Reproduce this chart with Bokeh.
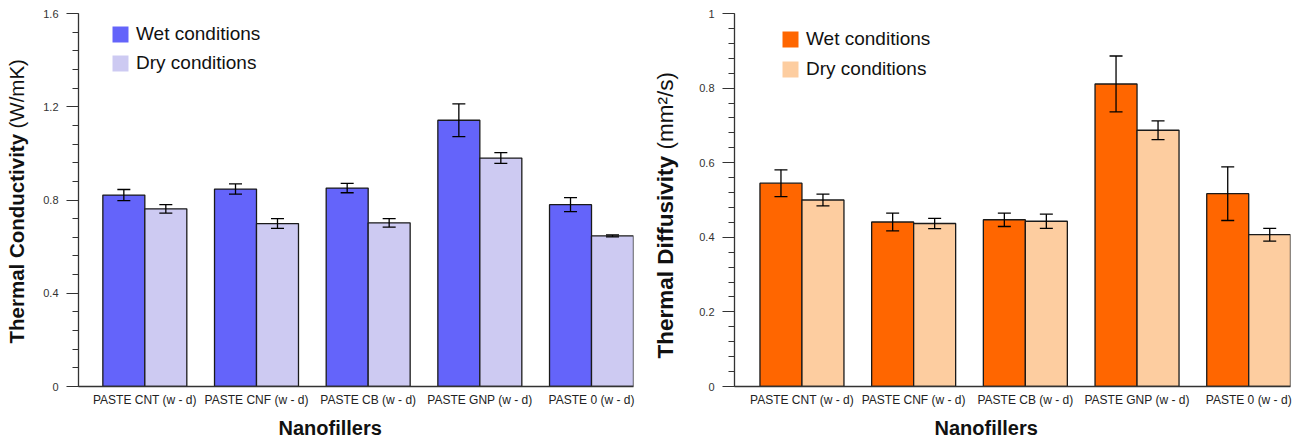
import numpy as np
from bokeh.plotting import figure
from bokeh.models import (ColumnDataSource, Range1d, FixedTicker, SingleIntervalTicker,
                          Whisker, TeeHead, Label, Legend, LegendItem, CustomJSTickFormatter,
                          Title)
from bokeh.transform import dodge
from bokeh.layouts import row
from bokeh.embed import file_html
from bokeh.resources import INLINE

# ---------------- data ----------------
categories = ["PASTE CNT (w - d)", "PASTE CNF (w - d)", "PASTE CB (w - d)",
              "PASTE GNP (w - d)", "PASTE 0 (w - d)"]
series = ["Wet conditions", "Dry conditions"]

cond_wet = [0.821, 0.847, 0.851, 1.142, 0.780]
cond_wet_err = [0.024, 0.022, 0.020, 0.070, 0.030]
cond_dry = [0.762, 0.699, 0.702, 0.980, 0.646]
cond_dry_err = [0.018, 0.021, 0.018, 0.023, 0.004]

diff_wet = [0.545, 0.441, 0.447, 0.811, 0.517]
diff_wet_err = [0.036, 0.024, 0.018, 0.075, 0.072]
diff_dry = [0.500, 0.437, 0.443, 0.687, 0.407]
diff_dry_err = [0.016, 0.014, 0.019, 0.025, 0.017]

FONT = "Liberation Sans"
AX = "#333333"
BAR_W = 0.376
H = 443


def make_src(vals, errs):
    xs = list(range(1, len(categories) + 1))
    v = np.array(vals)
    e = np.array(errs)
    return ColumnDataSource(dict(x=xs, top=v, upper=v + e, lower=v - e))


def make_gutter(width, bold, reg, x, y0, gap, size):
    """Narrow strip holding the rotated y-axis title (bold + regular parts)."""
    g = figure(width=width, height=H, output_backend="svg", toolbar_location=None,
               x_axis_type=None, y_axis_type=None, min_border=0,
               x_range=Range1d(0, 1), y_range=Range1d(0, 1))
    g.outline_line_color = None
    g.xgrid.visible = False
    g.ygrid.visible = False
    g.add_layout(Label(x=x, y=y0, x_units="screen", y_units="screen", text=bold,
                       angle=np.pi / 2, text_font=FONT, text_font_style="bold",
                       text_font_size=size, text_align="left",
                       text_baseline="alphabetic", text_color="#111111"))
    g.add_layout(Label(x=x, y=y0 + gap, x_units="screen", y_units="screen", text=reg,
                       angle=np.pi / 2, text_font=FONT, text_font_style="normal",
                       text_font_size=size, text_align="left",
                       text_baseline="alphabetic", text_color="#111111"))
    return g


def make_panel(width, border_left, border_right, x_range, y_max, y_interval,
               wet, wet_err, dry, dry_err, colors, legend_loc, legend_spacing):
    p = figure(width=width, height=H, output_backend="svg", toolbar_location=None,
               x_range=Range1d(*x_range), y_range=Range1d(0, y_max),
               min_border_left=border_left, min_border_right=border_right,
               min_border_top=13, min_border_bottom=57)
    p.outline_line_color = None
    p.xgrid.visible = False
    p.ygrid.visible = False

    for vals, errs, col, off in ((wet, wet_err, colors[0], -BAR_W / 2),
                                 (dry, dry_err, colors[1], BAR_W / 2)):
        src = make_src(vals, errs)
        p.vbar(x=dodge("x", off, range=p.x_range), top="top", bottom=0, width=BAR_W,
               source=src, fill_color=col, line_color="#1a1a1a", line_width=1.3)
        w = Whisker(source=src, base=dodge("x", off, range=p.x_range), upper="upper",
                    lower="lower", line_color="black", line_width=1.3, level="annotation",
                    upper_head=TeeHead(size=13, line_color="black", line_width=1.3),
                    lower_head=TeeHead(size=13, line_color="black", line_width=1.3))
        p.add_layout(w)

    # x axis
    xa = p.xaxis[0]
    xa.ticker = FixedTicker(ticks=list(range(1, len(categories) + 1)))
    xa.major_label_overrides = {i + 1: c for i, c in enumerate(categories)}
    xa.major_tick_out = 0
    xa.major_tick_in = 0
    xa.minor_tick_out = 0
    xa.minor_tick_in = 0
    xa.axis_line_color = AX
    xa.axis_line_width = 1.3
    xa.major_label_text_font = FONT
    xa.major_label_text_font_size = "12px"
    xa.major_label_text_color = "#222222"
    xa.major_label_standoff = 6

    # y axis
    ya = p.yaxis[0]
    ya.ticker = SingleIntervalTicker(interval=y_interval, num_minor_ticks=5)
    ya.formatter = CustomJSTickFormatter(code="return tick.toFixed(1).replace(/\\.0$/, '');")
    ya.major_tick_out = 12
    ya.major_tick_in = 0
    ya.minor_tick_out = 6
    ya.minor_tick_in = 0
    ya.axis_line_color = AX
    ya.axis_line_width = 1.3
    ya.major_tick_line_color = AX
    ya.minor_tick_line_color = AX
    ya.major_tick_line_width = 1.2
    ya.minor_tick_line_width = 1.2
    ya.major_label_text_font = FONT
    ya.major_label_text_font_size = "11px"
    ya.major_label_text_color = "#333333"
    ya.major_label_standoff = 8

    # x-axis title
    p.add_layout(Title(text="Nanofillers", align="left", offset=200, standoff=10,
                       text_font=FONT, text_font_style="bold", text_font_size="20px",
                       text_color="#111111"), "below")

    # legend (borderless swatches)
    r1 = p.vbar(x=[0], top=[0], bottom=[0], width=0.01, fill_color=colors[0], line_color=None)
    r2 = p.vbar(x=[0], top=[0], bottom=[0], width=0.01, fill_color=colors[1], line_color=None)
    leg = Legend(items=[LegendItem(label=series[0], renderers=[r1]),
                        LegendItem(label=series[1], renderers=[r2])],
                 location=legend_loc, glyph_width=20, glyph_height=20,
                 label_standoff=6, spacing=legend_spacing, padding=0, margin=0,
                 border_line_color=None, background_fill_alpha=0,
                 label_text_font=FONT, label_text_font_size="19px",
                 label_text_color="#111111")
    p.add_layout(leg)
    return p


# gutter frames are aligned with the plot frames (top 13, bottom 386)
g1 = make_gutter(40, "Thermal Conductivity", "(W/mK)", 16, 43, 215, "20.5px")
p1 = make_panel(605, 38, 12, (0.406, 5.376), 1.6, 0.4,
                cond_wet, cond_wet_err, cond_dry, cond_dry_err,
                ("#6464FA", "#CDCAF2"), (32, 312), 7)
g2 = make_gutter(45, "Thermal Diffusivity", "(mm\u00b2/s)", 19.5, 28, 209, "22.5px")
p2 = make_panel(615, 44, 15, (0.396, 5.374), 1.0, 0.2,
                diff_wet, diff_wet_err, diff_dry, diff_dry_err,
                ("#FF6600", "#FDCDA0"), (46, 306.5), 8)

layout = row(g1, p1, g2, p2)
open("out.html", "w").write(file_html(layout, INLINE))
